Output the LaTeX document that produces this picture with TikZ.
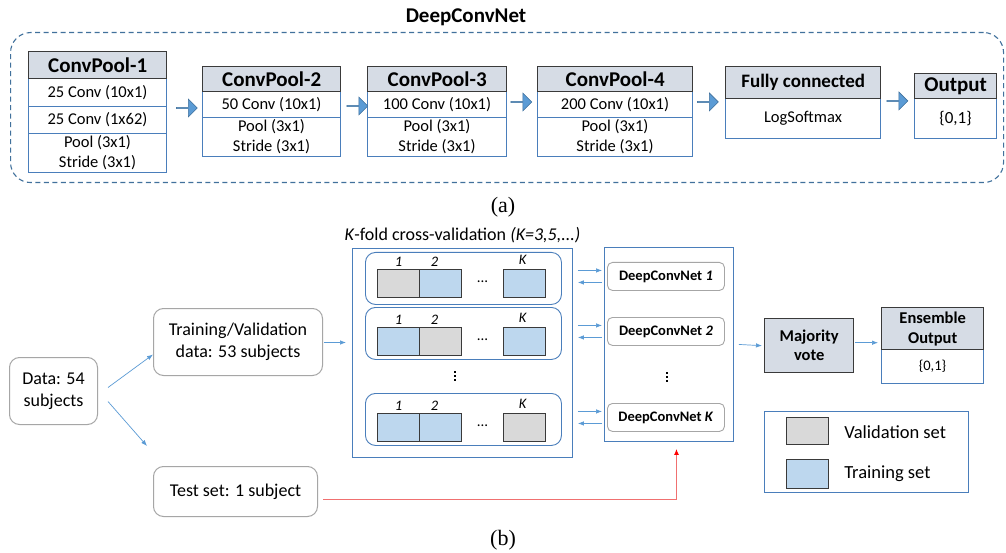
\documentclass[tikz,border=0pt]{standalone}
\usepackage{fontspec}
\setmainfont{Carlito}
\newfontfamily\capfont{Liberation Serif}
\usetikzlibrary{arrows.meta,calc,shapes.arrows}

\definecolor{hdrfill}{HTML}{D6DCE5}
\definecolor{hdrline}{HTML}{3A3A3A}
\definecolor{rowline}{HTML}{4A7EBB}
\definecolor{arrfill}{HTML}{5B9BD5}
\definecolor{arrline}{HTML}{41719C}
\definecolor{trainfill}{HTML}{BDD7EE}
\definecolor{valfill}{HTML}{D9D9D9}
\definecolor{softline}{HTML}{A6A6A6}
\definecolor{linkblue}{HTML}{5B9BD5}
\definecolor{testred}{HTML}{F07070}
\definecolor{dashblue}{HTML}{41719C}

\newcommand\fsz[2]{\fontsize{#1}{#2}\selectfont}

\begin{document}
\begin{tikzpicture}[x=1pt,y=-1pt,
  wh/.style 2 args={minimum width=#1pt, minimum height=#2pt},
  tab/.style={draw, anchor=north west, inner sep=0pt, align=center},
  hdr/.style={tab, fill=hdrfill, draw=hdrline, line width=1.4pt, font=\bfseries\fsz{21}{24}},
  row/.style={tab, fill=white, draw=rowline, line width=1pt, font=\fsz{16.5}{20}},
  blockarr/.style={single arrow, draw=arrline, fill=arrfill, line width=0.6pt,
    minimum height=21pt, minimum width=18pt, single arrow head extend=4pt, inner sep=0pt},
  softbox/.style={tab, draw=softline, line width=1pt, rounded corners=10pt, font=\fsz{18}{22}},
  frame/.style={tab, draw=rowline, line width=0.9pt},
  foldrow/.style={tab, draw=rowline, line width=0.9pt, rounded corners=10pt, wh={196}{52}},
  fcell/.style={tab, draw=hdrline, line width=1.1pt, wh={42}{28}},
  idx/.style={font=\itshape\fsz{14.5}{16}, inner sep=0pt},
  netbox/.style={tab, draw=softline, line width=0.9pt, rounded corners=5pt, wh={117}{28},
    font=\bfseries\fsz{14.5}{17}},
  dotmark/.style={fill=black, inner sep=0pt, minimum size=2pt, rectangle},
  link/.style={draw=linkblue, line width=0.7pt, -{Latex[length=6pt,width=4.5pt]}},
  redlink/.style={draw=testred, line width=1.1pt, -{Latex[length=6pt,width=5pt,color=red]}},
]
\useasboundingbox (0,0) rectangle (1006,553);
\fill[white] (0,0) rectangle (1006,553);

% ---------------- DeepConvNet architecture ----------------
\node[tab, draw=dashblue, line width=1.1pt, dash pattern=on 5pt off 3.5pt,
      rounded corners=20pt, wh={993}{150}] (net) at (10,32) {};
\node[font=\bfseries\fsz{21}{24}] (nettitle) at (466,17) {DeepConvNet};

% ConvPool-1
\node[row, wh={138}{28}] (c1a) at (28,78) {25 Conv (10x1)};
\node[row, wh={138}{27}] (c1b) at (28,106) {25 Conv (1x62)};
\node[row, wh={138}{39}] (c1c) at (28,133) {Pool (3x1)\\Stride (3x1)};
\node[hdr, wh={138}{27}] (c1) at (28,51) {ConvPool-1};

% ConvPool-2
\node[row, wh={138}{26}] (c2a) at (202,91) {50 Conv (10x1)};
\node[row, wh={138}{39}] (c2b) at (202,117) {Pool (3x1)\\Stride (3x1)};
\node[hdr, wh={138}{25}] (c2) at (202,66) {ConvPool-2};

% ConvPool-3
\node[row, wh={139}{26}] (c3a) at (367,91) {100 Conv (10x1)};
\node[row, wh={139}{39}] (c3b) at (367,117) {Pool (3x1)\\Stride (3x1)};
\node[hdr, wh={139}{25}] (c3) at (367,66) {ConvPool-3};

% ConvPool-4
\node[row, wh={155}{26}] (c4a) at (537,91) {200 Conv (10x1)};
\node[row, wh={155}{39}] (c4b) at (537,117) {Pool (3x1)\\Stride (3x1)};
\node[hdr, wh={155}{25}] (c4) at (537,66) {ConvPool-4};

% Fully connected
\node[row, wh={155}{40}] (fca) at (725,98) {LogSoftmax};
\node[hdr, wh={155}{32}, font=\bfseries\fsz{19}{22}] (fc) at (725,66) {Fully connected};

% Output
\node[row, wh={82}{40}, font=\fsz{17}{20}] (outa) at (914,98) {\{0,1\}};
\node[hdr, wh={82}{25}] (out) at (914,73) {Output};

% block arrows between the stages
\node[blockarr] (ar1) at (186.5,108) {};
\node[blockarr] (ar2) at (357,106) {};
\node[blockarr] (ar3) at (521,102) {};
\node[blockarr] (ar4) at (707.5,102) {};
\node[blockarr] (ar5) at (897,101) {};

\node[font=\capfont\fsz{22}{24}] (capa) at (503,207) {(a)};

% ---------------- Training / evaluation scheme ----------------
\node[softbox, wh={88}{67}] (data) at (9,357) {Data: 54\\subjects};
\node[softbox, wh={169}{67}] (trval) at (153,308) {Training/Validation\\data: 53 subjects};
\node[softbox, wh={164}{50}] (test) at (153,466) {Test set: 1 subject};

\draw[link] ($(data.east)+(10,-3.5)$) -- ($(trval.west)+(0,12.5)$);
\draw[link] ($(data.east)+(10,10.5)$) -- ($(test.north west)+(-6,-20)$);

% K-fold block
\node[frame, wh={220}{209}] (kfold) at (352,248) {};
\node[font=\fsz{18}{20}] (kftitle) at ($(kfold.north)+(0,-13)$)
  {\textit{K}-fold cross-validation \textit{(K=3,5,...)}};
\draw[link] ($(trval.east)+(1,0.5)$) -- ($(kfold.west |- trval.east)+(-6,0.5)$);

% fold 1
\node[foldrow] (f1) at (365,252) {};
\node[fcell, fill=valfill] (f1a) at (377,269) {};
\node[fcell, fill=trainfill] (f1b) at (419,269) {};
\node[fcell, fill=trainfill] (f1k) at (503,269) {};
% fold 2
\node[foldrow] (f2) at (365,307) {};
\node[fcell, fill=trainfill] (f2a) at (377,327) {};
\node[fcell, fill=valfill] (f2b) at (419,327) {};
\node[fcell, fill=trainfill] (f2k) at (503,327) {};
% fold K
\node[foldrow] (f3) at (365,393) {};
\node[fcell, fill=trainfill] (f3a) at (377,413) {};
\node[fcell, fill=trainfill] (f3b) at (419,413) {};
\node[fcell, fill=valfill] (f3k) at (503,413) {};

\foreach \f in {f1,f2,f3}{
  \node[idx] at ($(\f a.north)+(0,-7)$) {1};
  \node[idx] at ($(\f b.north)+(-6,-7)$) {2};
  \node[idx] at ($(\f k.north)+(-2,-9)$) {K};
  \node[font=\fsz{15}{16}, inner sep=0pt] at ($(\f b.east)!0.5!(\f k.west)+(0,-2)$) {...};
}
% vertical ellipses between the folds
\foreach \dy in {-4.3,0,4.3}{
  \node[dotmark] at (455,376+\dy) {};
}

% ensemble of networks
\node[frame, wh={129}{194}] (nets) at (604,247) {};
\node[netbox] (n1) at (607,262) {DeepConvNet \textit{1}};
\node[netbox] (n2) at (607,317) {DeepConvNet \textit{2}};
\node[netbox] (nk) at (607,403) {DeepConvNet \textit{K}};
\foreach \dy in {-4.3,0,4.3}{
  \node[dotmark] at (667,377+\dy) {};
}

\foreach \n in {n1,n2,nk}{
  \draw[link] ($(kfold.east |- \n.center)+(5,-6)$) -- ($(nets.west |- \n.center)+(-2,-6)$);
  \draw[link] ($(nets.west |- \n.center)+(-2,6)$) -- ($(kfold.east |- \n.center)+(5,6)$);
}

% voting and final output
\node[tab, fill=hdrfill, draw=hdrline, line width=1.4pt, wh={89}{54},
      font=\bfseries\fsz{16.5}{19}] (vote) at (764,318) {Majority\\vote};
\node[row, wh={102}{34}, font=\fsz{14.5}{17}] (ensa) at (881,349) {\{0,1\}};
\node[tab, fill=hdrfill, draw=hdrline, line width=1.4pt, wh={102}{42},
      font=\bfseries\fsz{16.5}{20}] (ens) at (881,307) {Ensemble\\Output};

\draw[link] ($(nets.east)+(5,0)$) -- ($(vote.west)+(-2,0)$);
\draw[link] ($(vote.east)+(1,-3)$) -- ($(vote.east -| ens.west)+(-3,-3)$);

% test subject goes to the trained networks
\draw[redlink] ($(test.east)+(5,8)$) -| ($(nets.south)+(7.5,7)$);

% legend
\node[frame, line width=1pt, wh={204}{81}] (legend) at (764,411) {};
\node[fcell, fill=valfill, wh={42}{27}] (lv) at (786,417) {};
\node[fcell, fill=trainfill, wh={42}{29}] (lt) at (786,459) {};
\node[anchor=west, inner sep=0pt, font=\fsz{18.5}{22}] (lvt) at ($(lv.east)+(15,1)$) {Validation set};
\node[anchor=west, inner sep=0pt, font=\fsz{18.5}{22}] (ltt) at ($(lt.east)+(15,0)$) {Training set};

\node[font=\capfont\fsz{22}{24}] (capb) at (503,540) {(b)};
\end{tikzpicture}
\end{document}
